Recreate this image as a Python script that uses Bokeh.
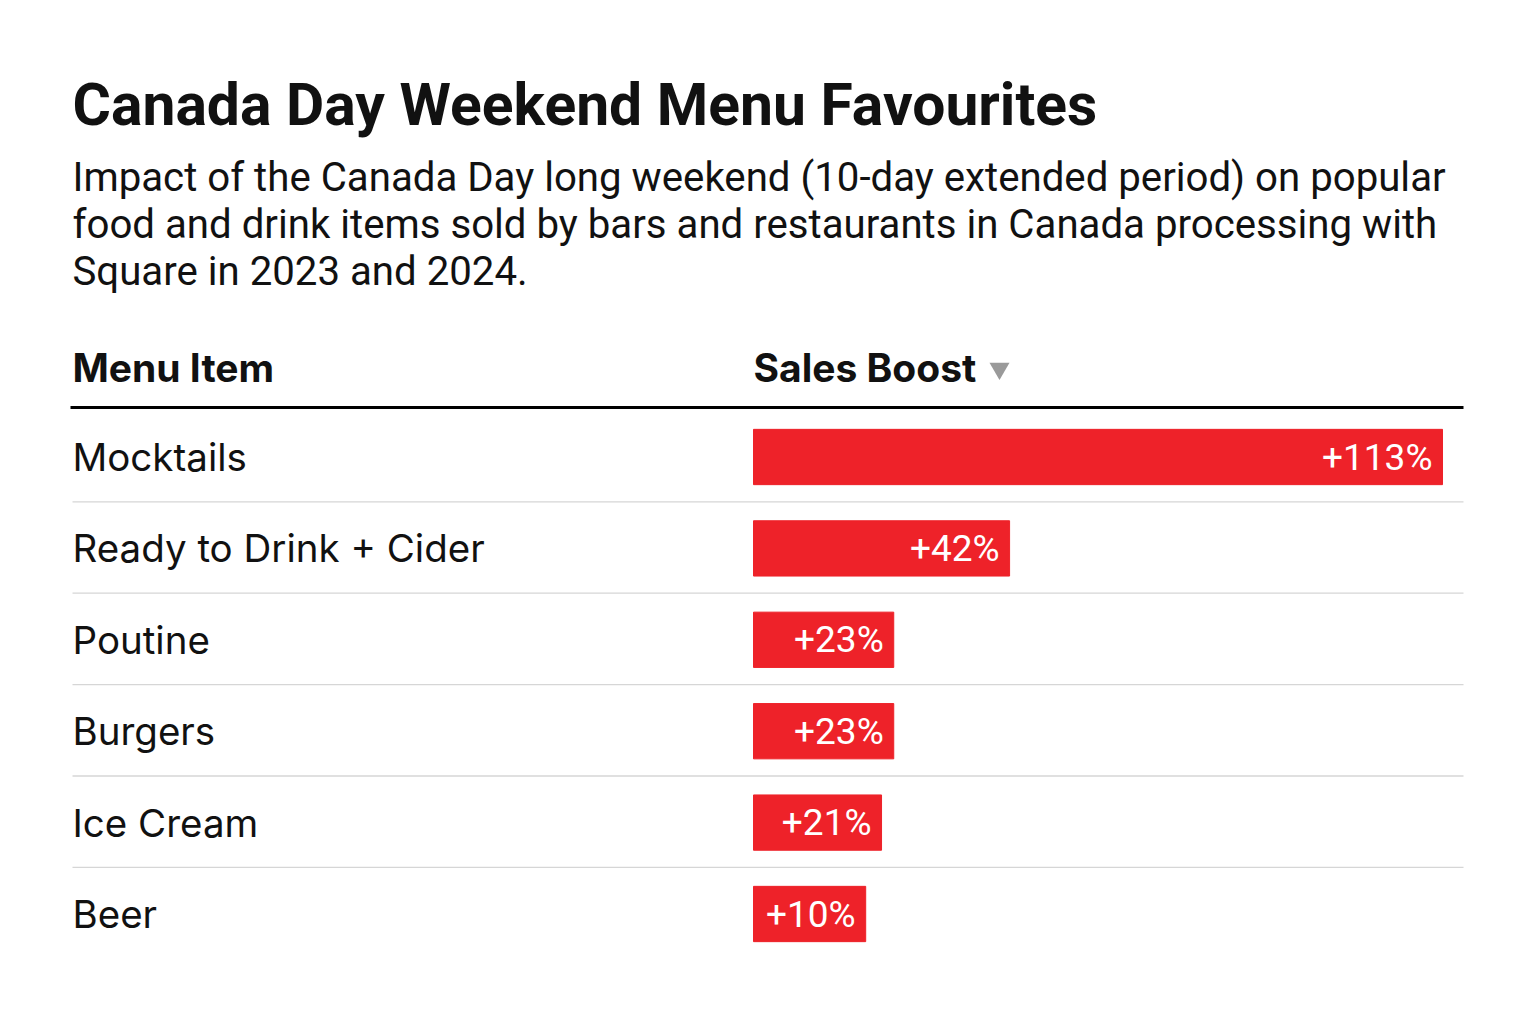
import numpy as np
from bokeh.plotting import figure
from bokeh.models import Range1d
from bokeh.core.properties import value
from bokeh.embed import file_html
from bokeh.resources import INLINE

# ---- data ----
items = ["Mocktails", "Ready to Drink + Cider", "Poutine", "Burgers", "Ice Cream", "Beer"]
boost = [113, 42, 23, 23, 21, 10]
labels = ["+113%", "+42%", "+23%", "+23%", "+21%", "+10%"]

title = "Canada Day Weekend Menu Favourites"
subtitle = [
    "Impact of the Canada Day long weekend (10-day extended period) on popular",
    "food and drink items sold by bars and restaurants in Canada processing with",
    "Square in 2023 and 2024.",
]
col_item = "Menu Item"
col_boost = "Sales Boost"

# ---- layout (pixels on the canvas) ----
W, H = 1520, 1008
KX = 689 / 113.0          # px per percentage point
X0 = 753                  # px of 0%
KY = 91.4                 # px per row
Y0 = 456.5                # px of first row centre
MIN_BAR = 18.4            # minimum bar length so the label fits

x_start = -X0 / KX
x_end = (W - X0) / KX
y_top = -Y0 / KY
y_bottom = (H - Y0) / KY


def px(x):
    return x_start + x / KX


def py(y):
    return y_top + y / KY


p = figure(width=W, height=H, output_backend="svg", toolbar_location=None,
           x_range=Range1d(x_start, x_end), y_range=Range1d(y_bottom, y_top),
           min_border=0, outline_line_color=None, background_fill_color="white",
           border_fill_color="white")
p.axis.visible = False
p.grid.visible = False

rows = list(range(len(items)))
bar_right = list(np.maximum(np.array(boost, dtype=float), MIN_BAR))

RED = "#EE2229"
p.hbar(y=rows, left=0, right=bar_right, height=0.605, fill_color=RED,
       line_color=RED)

# separators
for i in range(len(items) - 1):
    p.line(x=[px(72), px(1463)], y=[i + 0.49, i + 0.49], line_color="#d6d6d6",
           line_width=1.3)
# header rule
p.line(x=[px(70), px(1463)], y=[py(407), py(407)], line_color="black", line_width=3)

# row labels
p.text(x=[px(72)] * len(items), y=rows, text=items,
       text_font=value("Inter"), text_font_size="38.5px", text_color="#111111",
       text_baseline="middle", text_align="left")

# bar labels
p.text(x=bar_right, y=rows, text=labels, x_offset=-10,
       text_font=value("Roboto"), text_font_size="37px", text_color="white",
       text_baseline="middle", text_align="right")

# column headers
p.text(x=[px(72)], y=[py(367)], text=[col_item], text_font=value("Inter"),
       text_font_size="39px", text_font_style="bold", text_color="#111111",
       text_baseline="middle")
p.text(x=[0], y=[py(367)], text=[col_boost], text_font=value("Inter"),
       text_font_size="39px", text_font_style="bold", text_color="#111111",
       text_baseline="middle")
p.scatter(x=[px(999)], y=[py(368)], marker="inverted_triangle", size=20,
          fill_color="#9a9a9a", line_color=None)

# title + subtitle
p.text(x=[px(72)], y=[py(103.5)], text=[title], text_font=value("Roboto"),
       text_font_size="58.8px", text_font_style="bold", text_color="#111111",
       text_baseline="middle")
for j, line in enumerate(subtitle):
    p.text(x=[px(72)], y=[py(176.5 + 47 * j)], text=[line], text_font=value("Roboto"),
           text_font_size="40.2px", text_color="#111111", text_baseline="middle")

open("out.html", "w").write(file_html(p, INLINE))
